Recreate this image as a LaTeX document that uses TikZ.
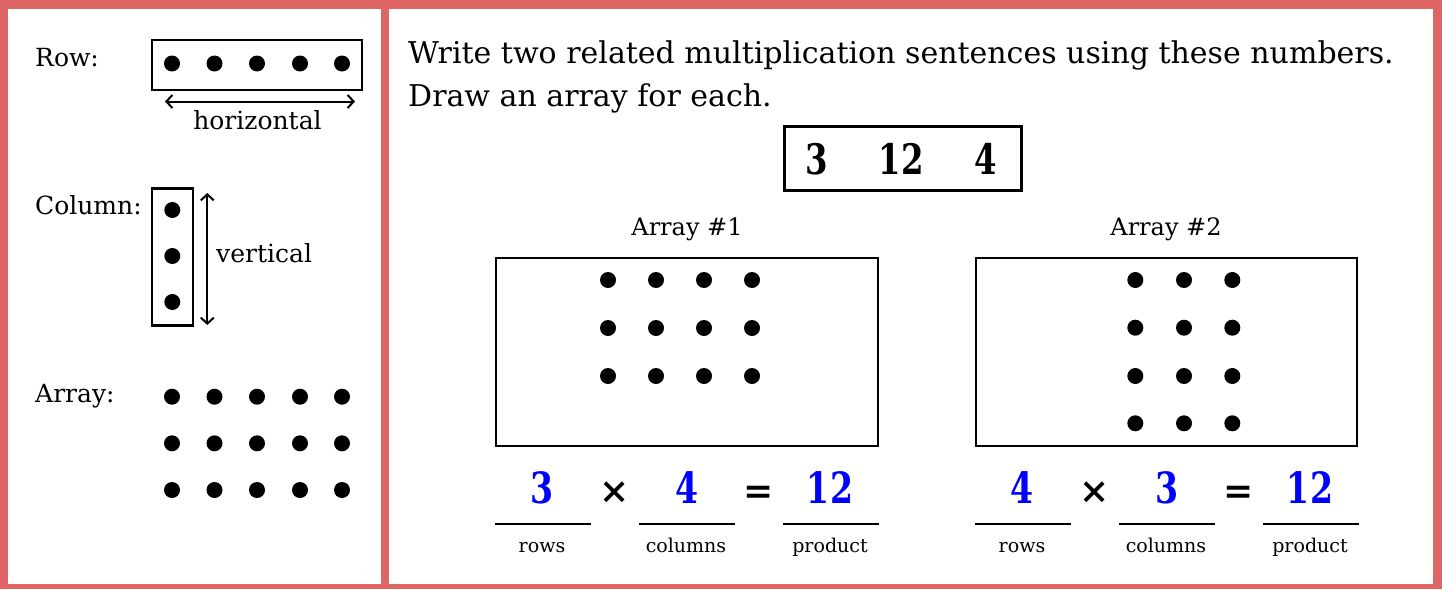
\documentclass[tikz,border=0pt]{standalone}
\usepackage{fontspec}
\usepackage{graphicx}
\setmainfont{DejaVu Serif}
\usetikzlibrary{arrows.meta}
\definecolor{framered}{HTML}{E06666}
\definecolor{ansblue}{HTML}{0000FF}
\newcommand{\narrow}[1]{\scalebox{0.77}[1]{#1}}
\begin{document}
\begin{tikzpicture}[x=1pt,y=-1pt,
  dot/.style={circle,fill=black,inner sep=0pt,minimum size=16pt},
  lbl/.style={font=\fontsize{25}{30}\selectfont,inner sep=0pt},
  ttl/.style={font=\fontsize{24}{29}\selectfont,inner sep=0pt,anchor=base},
  head/.style={font=\fontsize{30}{35}\selectfont,inner sep=0pt,anchor=base west},
  boxd/.style={font=\fontsize{42}{46}\bfseries\selectfont,inner sep=0pt,anchor=base},
  ans/.style={font=\fontsize{43}{48}\bfseries\selectfont,inner sep=0pt,anchor=base,text=ansblue},
  op/.style={font=\fontsize{36}{40}\bfseries\selectfont,inner sep=0pt,anchor=base},
  small/.style={font=\fontsize{19}{22}\selectfont,inner sep=0pt,anchor=base},
  boxline/.style={draw=black,line width=2.4pt},
  uline/.style={draw=black,line width=2.4pt},
  arr/.style={line width=2pt,{Straight Barb[length=6pt,width=13pt,line width=2pt]}-{Straight Barb[length=6pt,width=13pt,line width=2pt]}}
]
\useasboundingbox (0,0) rectangle (1442,589);
% frame
\fill[framered] (0,0) rectangle (1442,589);
\fill[white] (8,9) rectangle (381,584);
\fill[white] (389,9) rectangle (1433,584);

% ---------- left panel ----------
\node[lbl,anchor=base west] (rowlbl) at (35,66) {Row:};
\node[boxline,minimum width=210pt,minimum height=50pt,inner sep=0pt] (rowbox) at (257,65) {};
\foreach \x [count=\i] in {172,214.5,257,300,342}
  \node[dot] (r\i) at (\x,63.5) {};
\coordinate (hl) at (165,101.5);
\coordinate (hr) at (355,101.5);
\draw[arr] (hl) -- (hr);
\node[lbl,anchor=base] (horiz) at (257.5,129) {horizontal};

\node[lbl,anchor=base west] (collbl) at (35,214) {Column:};
\node[boxline,minimum width=41pt,minimum height=137pt,inner sep=0pt] (colbox) at (172.5,257) {};
\foreach \y [count=\i] in {210,256,302}
  \node[dot] (c\i) at (172.3,\y) {};
\coordinate (vt) at (207.3,193);
\coordinate (vb) at (207.3,325);
\draw[arr] (vt) -- (vb);
\node[lbl,anchor=base west] (vert) at (216,262) {vertical};

\node[lbl,anchor=base west] (arrlbl) at (35,402) {Array:};
\foreach \y [count=\j] in {396.7,443.3,490}
  \foreach \x [count=\i] in {172,214.5,257,300,342}
    \node[dot] (a\j\i) at (\x,\y) {};

% ---------- right panel ----------
\node[head] (line1) at (408,63) {Write two related multiplication sentences using these numbers.};
\node[head] (line2) at (408,106) {Draw an array for each.};

\node[boxline,minimum width=237pt,minimum height=64pt,inner sep=0pt] (numbox) at (903,158.5) {};
\node[boxd] (n3) at (816.7,174) {\narrow{3}};
\node[boxd] (n12) at (901,174) {\narrow{12}};
\node[boxd] (n4) at (986,174) {\narrow{4}};

\node[ttl] (t1) at (687,235) {Array \#1};
\node[ttl] (t2) at (1166,235) {Array \#2};

\node[boxline,minimum width=382pt,minimum height=188pt,inner sep=0pt] (box1) at (687,352) {};
\node[boxline,minimum width=381pt,minimum height=188pt,inner sep=0pt] (box2) at (1166.5,352) {};

\foreach \y [count=\j] in {280,328,376}
  \foreach \x [count=\i] in {608,656,704,752}
    \node[dot] (p\j\i) at (\x,\y) {};
\foreach \y [count=\j] in {280,327.7,376,423.3}
  \foreach \x [count=\i] in {1135.3,1184,1232.3}
    \node[dot] (q\j\i) at (\x,\y) {};

% equation 1
\node[ans] (e1a) at (542.5,503) {\narrow{3}};
\node[op] (e1x) at (614.3,503) {×};
\node[ans] (e1b) at (686.7,503) {\narrow{4}};
\node[op] (e1e) at (758.3,503) {=};
\node[ans] (e1c) at (830,503) {\narrow{12}};
\coordinate (u1a) at (495,524); \coordinate (u1b) at (591,524);
\coordinate (u2a) at (639,524); \coordinate (u2b) at (735,524);
\coordinate (u3a) at (783,524); \coordinate (u3b) at (879,524);
\draw[uline] (u1a) -- (u1b);
\draw[uline] (u2a) -- (u2b);
\draw[uline] (u3a) -- (u3b);
\node[small] (l1a) at (542,552) {rows};
\node[small] (l1b) at (686,552) {columns};
\node[small] (l1c) at (830,552) {product};

% equation 2
\node[ans] (e2a) at (1022.5,503) {\narrow{4}};
\node[op] (e2x) at (1094.3,503) {×};
\node[ans] (e2b) at (1166.7,503) {\narrow{3}};
\node[op] (e2e) at (1238.3,503) {=};
\node[ans] (e2c) at (1310,503) {\narrow{12}};
\coordinate (w1a) at (975,524); \coordinate (w1b) at (1071,524);
\coordinate (w2a) at (1119,524); \coordinate (w2b) at (1215,524);
\coordinate (w3a) at (1263,524); \coordinate (w3b) at (1359,524);
\draw[uline] (w1a) -- (w1b);
\draw[uline] (w2a) -- (w2b);
\draw[uline] (w3a) -- (w3b);
\node[small] (l2a) at (1022,552) {rows};
\node[small] (l2b) at (1166,552) {columns};
\node[small] (l2c) at (1310,552) {product};
\end{tikzpicture}
\end{document}
